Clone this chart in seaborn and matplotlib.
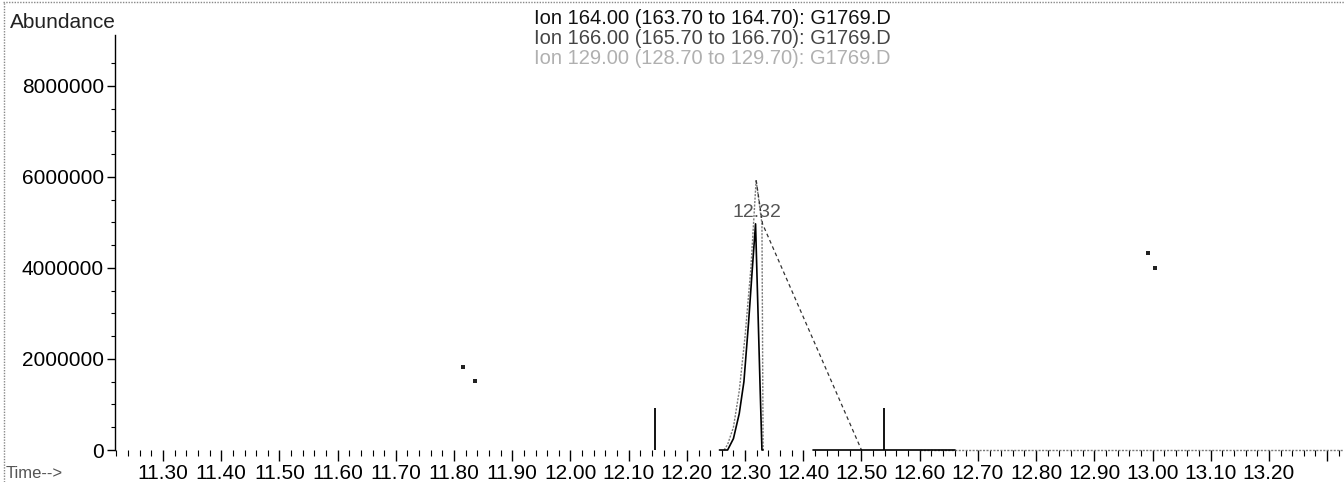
import numpy as np
import pandas as pd
import matplotlib
matplotlib.use("Agg")
import matplotlib.pyplot as plt
import seaborn as sns

# Ion 164 (solid) - peak plus baseline pieces, seg separates the pieces
ion164_t = [12.256, 12.27, 12.28, 12.29, 12.298, 12.306, 12.312, 12.318, 12.326, 12.329, 12.331,
            12.417, 12.66]
ion164_y = [0, 0, 0.25e6, 0.8e6, 1.5e6, 2.8e6, 3.9e6, 4.97e6, 1.3e6, 0, 0,
            0, 0]
ion164_seg = [0] * 11 + [1] * 2

# Ion 166 (dashed) - falling flank after the apex
ion166_t = [12.319, 12.33, 12.50]
ion166_y = [5.93e6, 4.97e6, 0]

# Ion 129 (dotted, light) - rising flank, apex and sharp drop, faint baseline
ion129_t = [12.264, 12.27, 12.28, 12.29, 12.30, 12.31, 12.319, 12.329, 12.331,
            12.60, 13.33]
ion129_y = [0, 0.12e6, 0.5e6, 1.3e6, 2.5e6, 4.0e6, 5.93e6, 4.97e6, 0,
            0, 0]
ion129_seg = [0] * 9 + [1] * 2

# integration marks
mark_t = [12.146, 12.538]
mark_h = [0.92e6, 0.92e6]

# scan specks
speck_t = [11.815, 11.836, 12.992, 13.004]
speck_y = [1.82e6, 1.52e6, 4.33e6, 4.0e6]

peak_label = "12.32"
peak_t, peak_y = 12.32, 5.23e6

title_lines = ["Ion 164.00 (163.70 to 164.70): G1769.D",
               "Ion 166.00 (165.70 to 166.70): G1769.D",
               "Ion 129.00 (128.70 to 129.70): G1769.D"]
title_colors = ["#111111", "#444444", "#b0b0b0"]

x_major = np.round(np.arange(11.30, 13.31, 0.10), 2)
x_labels = [f"{v:.2f}" for v in x_major[:-1]] + [""]
y_major = [0, 2000000, 4000000, 6000000, 8000000]

sns.set_theme(style="white")
plt.rcParams["font.family"] = ["Liberation Sans", "DejaVu Sans"]

fig = plt.figure(figsize=(13.44, 4.82), dpi=100)
ax = fig.add_axes([115 / 1344, 1 - 450 / 482, 1 - 115 / 1344, (450 - 35) / 482])

df164 = pd.DataFrame({"t": ion164_t, "y": ion164_y, "seg": ion164_seg})
df129 = pd.DataFrame({"t": ion129_t, "y": ion129_y, "seg": ion129_seg})
df166 = pd.DataFrame({"t": ion166_t, "y": ion166_y, "seg": 0})

sns.lineplot(data=df129, x="t", y="y", units="seg", estimator=None, sort=False,
             color="#7a7a7a", linestyle=(0, (1.5, 1)), linewidth=1.0,
             clip_on=False, ax=ax)
sns.lineplot(data=df166, x="t", y="y", units="seg", estimator=None, sort=False,
             color="#333333", linestyle=(0, (3, 2.5)), linewidth=0.9,
             clip_on=False, ax=ax)
sns.lineplot(data=df164, x="t", y="y", units="seg", estimator=None, sort=False,
             color="black", linewidth=1.2, clip_on=False, ax=ax)
ax.vlines(mark_t, 0, mark_h, color="black", linewidth=1.3)
sns.scatterplot(x=speck_t, y=speck_y, color="#222222", s=8, marker="s",
                linewidth=0, ax=ax)

ax.text(peak_t, peak_y, peak_label, ha="center", va="center",
        fontsize=14, color="#555555")

ax.set_xlim(11.2175, 13.329)
ax.set_ylim(0, 9.12e6)
ax.set_xticks(x_major)
ax.set_xticklabels(x_labels)
ax.set_xticks(np.round(np.arange(11.22, 13.33, 0.02), 2), minor=True)
ax.set_yticks(y_major)
ax.set_yticklabels([str(v) for v in y_major])
ax.set_yticks(np.arange(0, 9.0e6, 0.5e6), minor=True)

for side in ["top", "right", "bottom"]:
    ax.spines[side].set_visible(False)
ax.spines["left"].set_color("black")
ax.spines["left"].set_linewidth(1.0)

ax.tick_params(axis="x", which="major", direction="out", length=8, width=1.0,
               colors="black", labelsize=15, pad=2, bottom=True)
ax.tick_params(axis="x", which="minor", direction="out", length=4, width=0.8,
               colors="black", bottom=True)
ax.tick_params(axis="y", which="major", direction="out", length=6, width=1.0,
               colors="black", labelsize=15, pad=2, left=True)
ax.tick_params(axis="y", which="minor", direction="out", length=3, width=0.8,
               colors="black", left=True)
ax.set_xlabel("")
ax.set_ylabel("")
ax.grid(False)

fig.text(10 / 1344, 1 - 23 / 482, "Abundance", fontsize=15, va="center", ha="left",
         color="#222222")
fig.text(6 / 1344, 1 - 473 / 482, "Time-->", fontsize=12, va="center", ha="left",
         color="#555555")
for i, (line, col) in enumerate(zip(title_lines, title_colors)):
    fig.text(712 / 1344, 1 - (18 + 20 * i) / 482, line, fontsize=14.5,
             ha="center", va="center", color=col)

# scanned page frame (top and left)
fig.add_artist(plt.Line2D([0.002, 1], [0.995, 0.995], color="#888888",
                          linewidth=1.0, linestyle=(0, (1, 1))))
fig.add_artist(plt.Line2D([0.003, 0.003], [0, 0.995], color="#888888",
                          linewidth=1.0, linestyle=(0, (1, 1))))

fig.savefig("out.png", dpi=100)
